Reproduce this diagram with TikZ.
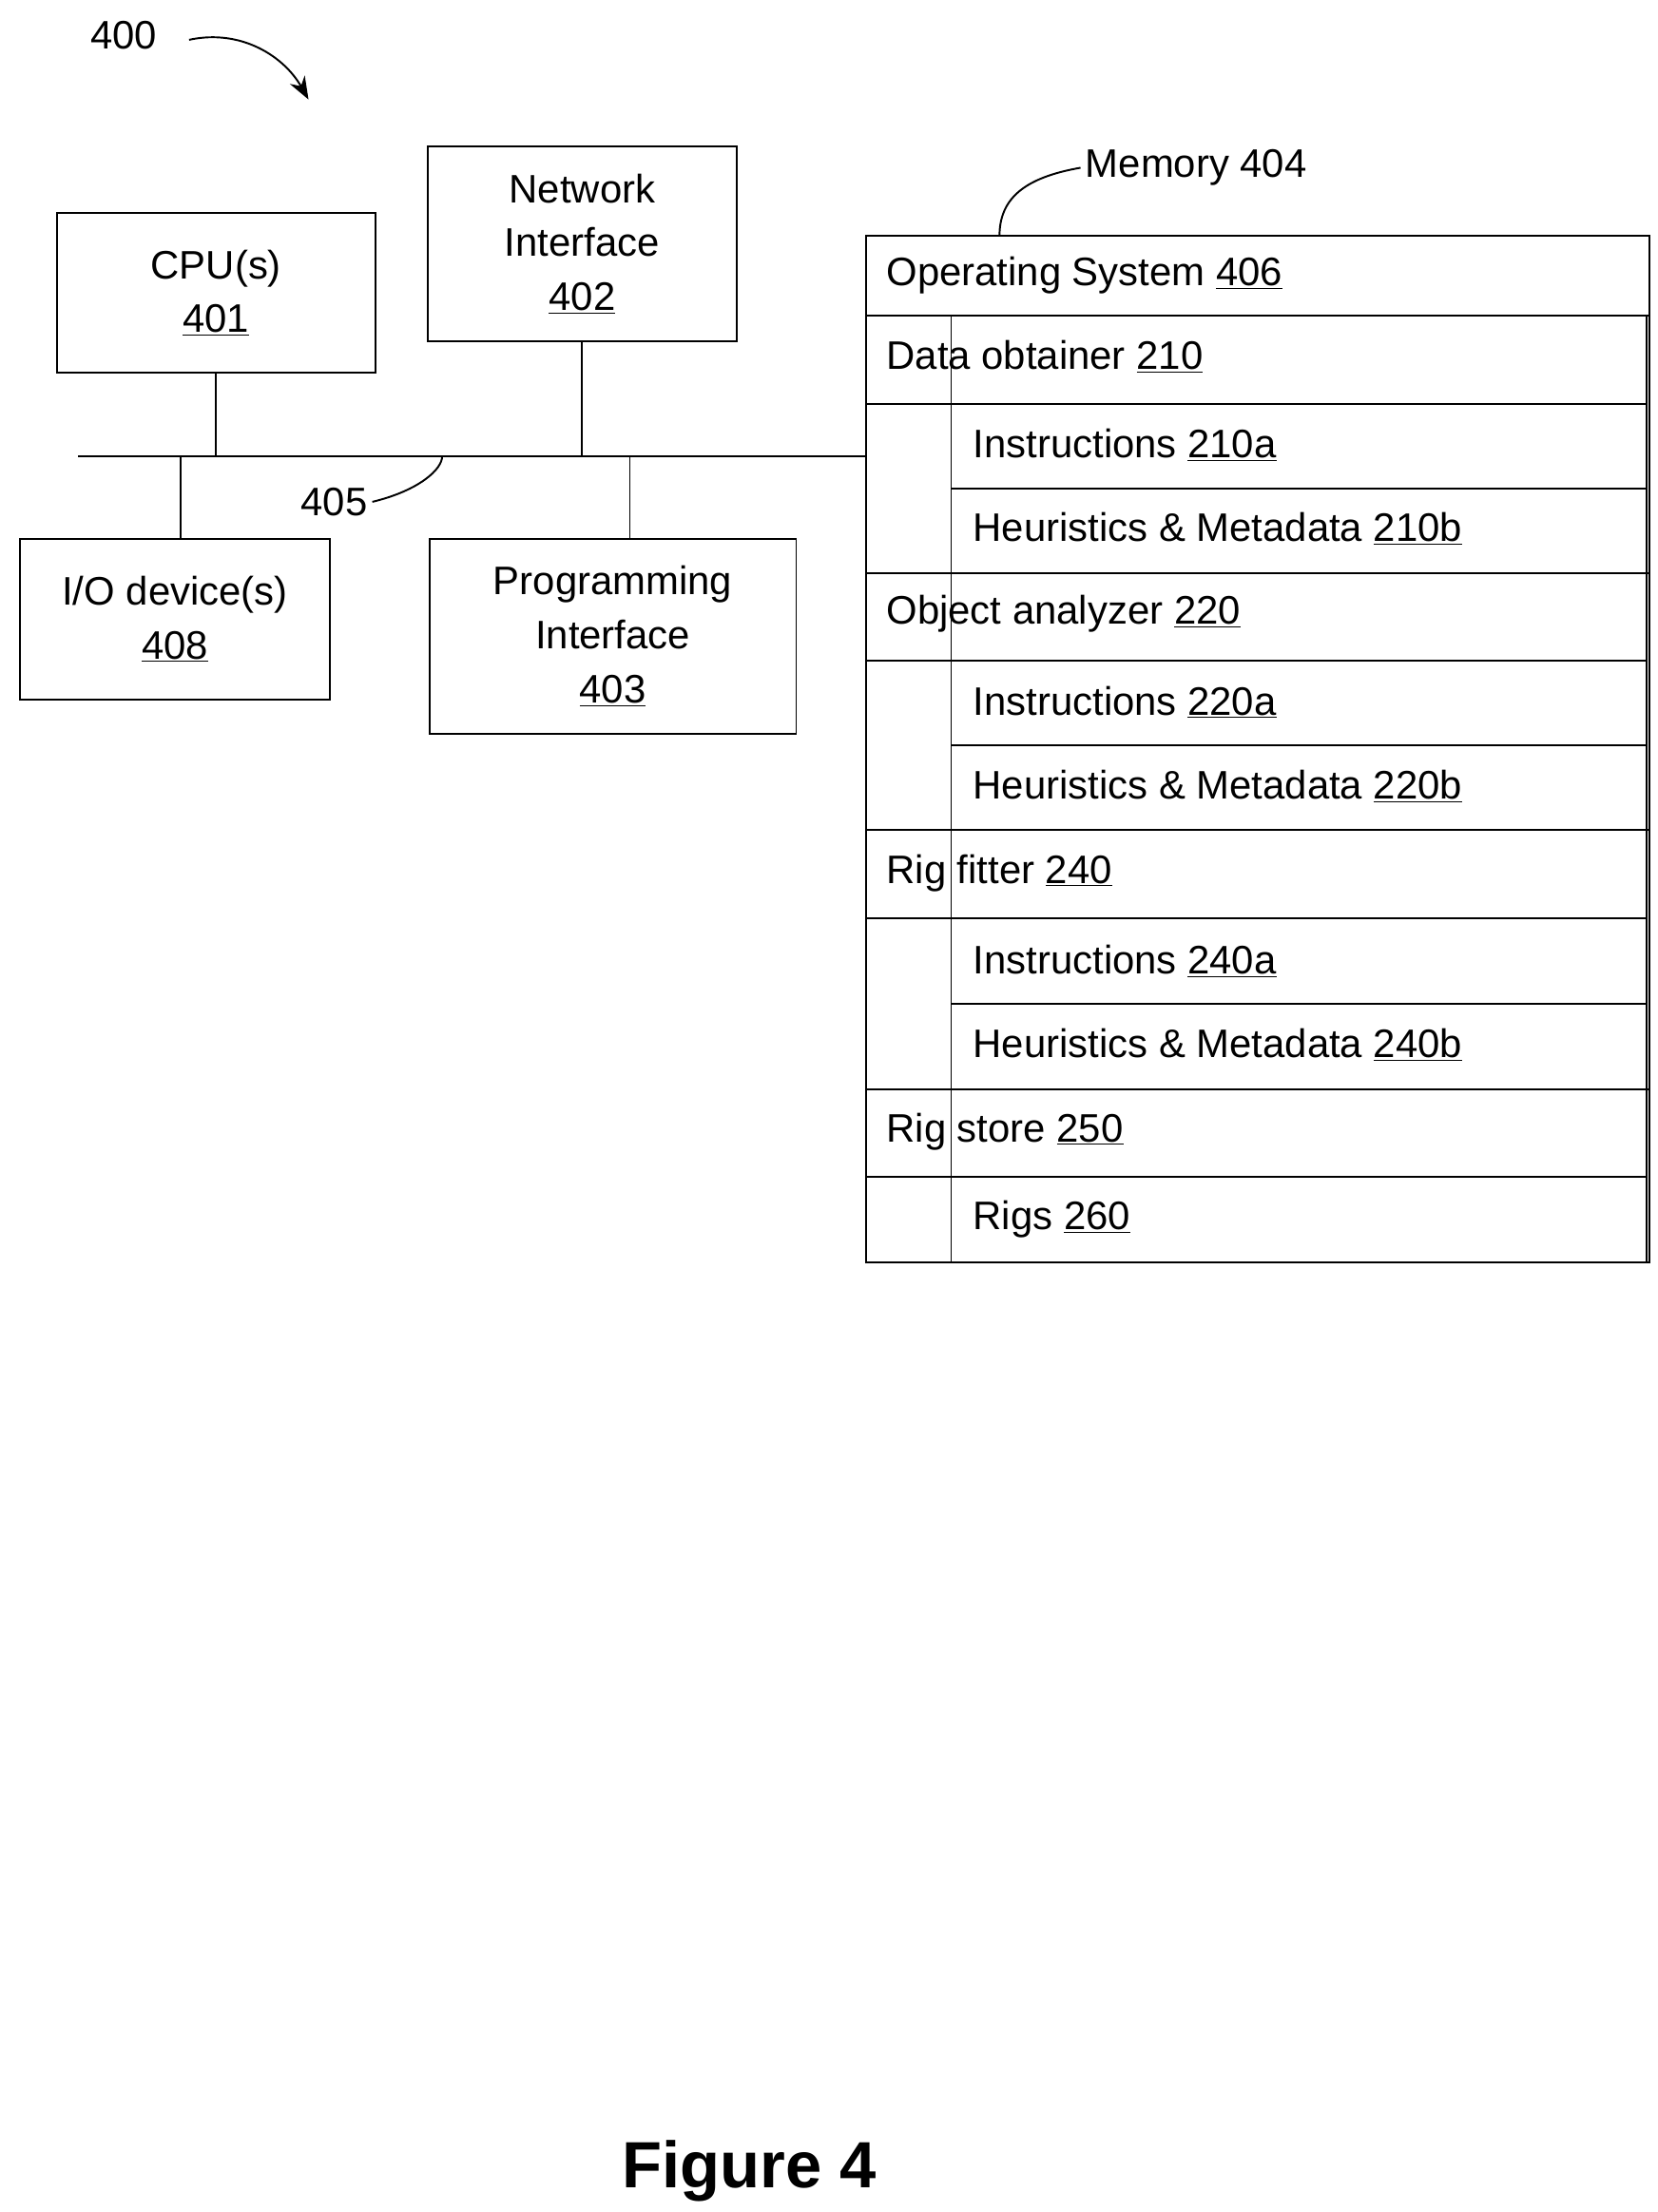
\documentclass[tikz,border=0pt]{standalone}
\usepackage{fontspec}
\setmainfont{Liberation Sans}
\usetikzlibrary{positioning,arrows.meta}
\tikzset{
  box/.style={draw,line width=1.3pt,align=center,font=\fontsize{28}{38}\selectfont},
  row/.style={draw,line width=1.3pt,anchor=north west,inner sep=0pt},
  lbl/.style={anchor=west,font=\fontsize{28}{34}\selectfont},
  wire/.style={line width=1.3pt}
}
\newcommand{\ul}[1]{\underline{#1}}
\begin{document}
\begin{tikzpicture}[x=1pt,y=-1pt]
\useasboundingbox (0,0) rectangle (1166,1556);

% left hand boxes
\node[box,minimum width=224,minimum height=112] (cpu) at (152,206) {CPU(s)\\\ul{401}};
\node[box,minimum width=217,minimum height=137] (net) at (409.5,171.5) {Network\\Interface\\\ul{402}};
\node[box,minimum width=218,minimum height=113] (io) at (123,435.5) {I/O device(s)\\\ul{408}};
\node[box,minimum width=258,minimum height=137] (prog) at (431,447.5) {Programming\\Interface\\\ul{403}};

% bus
\coordinate (busl) at (55,321);
\coordinate (busr) at (609,321);
\draw[wire] (busl) -- (busr);
\draw[wire] (cpu.south) -- (cpu.south |- busl);
\draw[wire] (net.south) -- (net.south |- busl);
\draw[wire] (io.north -| 127,0) -- (127,321);
\draw[wire] (prog.north -| 443,0) -- (443,321);
\node[lbl,anchor=center] (bus) at (235,353) {405};
\draw[wire] (bus.east) .. controls (295,345) and (311,330) .. (311,321);

% memory
\foreach \y/\h in {166/56,222/181,403/181,584/182,766/122}
  \draw[wire] (609,\y) rectangle (1160,\y+\h);
\foreach \y/\h in {222/62,284/60,344/59,403/62,465/59,524/60,584/62,646/60,706/60,766/62,828/60}
  \draw[wire] (669,\y) rectangle (1158,\y+\h);
\draw[wire,white,line width=1.6pt] (609.7,222.7) -- (609.7,402.3);
\foreach \y/\h in {222/62,403/62,584/62,766/62}
  \draw[wire] (609,\y) rectangle (1158,\y+\h);
\fill[white] (611,285) rectangle (668,402);
\fill[white] (611,466) rectangle (668,583);
\fill[white] (611,647) rectangle (668,765);
\fill[white] (611,829) rectangle (668,887);
\draw[wire] (609,166) rectangle (1160,888);

\node[lbl] (os) at (620,194) {Operating System \ul{406}};
\node[lbl] (dob) at (620,251) {Data obtainer \ul{210}};
\node[lbl] (ins1) at (681,313) {Instructions \ul{210a}};
\node[lbl] (heu1) at (681,372) {Heuristics \& Metadata \ul{210b}};
\node[lbl] (oan) at (620,432) {Object analyzer \ul{220}};
\node[lbl] (ins2) at (681,494) {Instructions \ul{220a}};
\node[lbl] (heu2) at (681,553) {Heuristics \& Metadata \ul{220b}};
\node[lbl] (rfit) at (620,614) {Rig fitter \ul{240}};
\node[lbl] (ins3) at (681,676) {Instructions \ul{240a}};
\node[lbl] (heu3) at (681,735) {Heuristics \& Metadata \ul{240b}};
\node[lbl] (rst) at (620,796) {Rig store \ul{250}};
\node[lbl] (rigs) at (681,858) {Rigs \ul{260}};

\node[lbl] (mem) at (760,118) {Memory 404};
\coordinate (memtop) at (703,166);
\draw[wire] (mem.west) .. controls (720,125) and (703,140) .. (memtop);

% figure ref
\node[lbl,anchor=center] (fig) at (87,25) {400};
\coordinate (figtip) at (217,70);
\draw[wire,-{Stealth[length=16pt,width=12pt]}] (133,28) .. controls (170,20) and (200,40) .. (figtip);

\node[font=\bfseries\fontsize{46}{50}\selectfont] (title) at (527,1527) {Figure 4};
\end{tikzpicture}
\end{document}
